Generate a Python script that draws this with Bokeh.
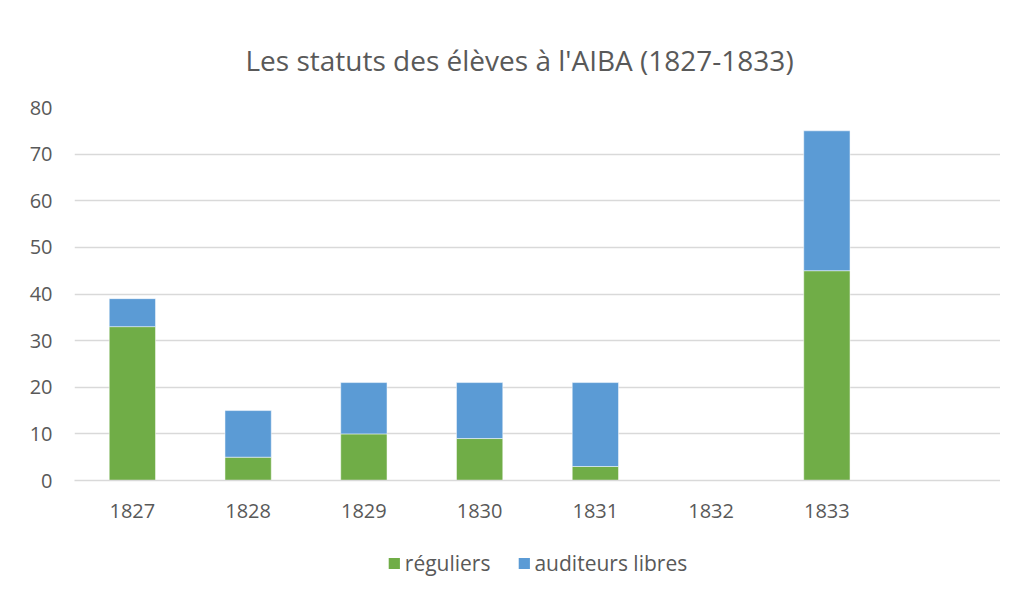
from bokeh.plotting import figure
from bokeh.layouts import column
from bokeh.models import FactorRange, ColumnDataSource, Legend, Title
from bokeh.embed import file_html
from bokeh.resources import INLINE

years = ["1827", "1828", "1829", "1830", "1831", "1832", "1833"]
reguliers = [33, 5, 10, 9, 3, 0, 45]
auditeurs_libres = [6, 10, 11, 12, 18, 0, 30]
series = ["réguliers", "auditeurs libres"]
colors = ["#70ad47", "#5b9bd5"]

source = ColumnDataSource(data={"year": years, "réguliers": reguliers, "auditeurs libres": auditeurs_libres})

FONT = "Open Sans"
TXT = "#595959"
factors = years + [" "]

p = figure(width=1000, height=530, output_backend="svg", toolbar_location=None,
           x_range=FactorRange(factors=factors, range_padding=0),
           y_range=(0, 80), min_border_left=74, min_border_right=0,
           min_border_top=107, min_border_bottom=50)

p.add_layout(Title(text="Les statuts des élèves à l'AIBA (1827-1833)", align="left",
                   text_font=FONT, text_font_size="28px", text_font_style="normal",
                   text_color=TXT, standoff=57, offset=171), "above")

p.vbar_stack(series, x="year", width=0.4, source=source, color=colors,
             line_color="white", line_width=0.5)

p.outline_line_color = None
p.xgrid.grid_line_color = None
p.ygrid.grid_line_color = "#d9d9d9"
p.ygrid.grid_line_width = 1.5
p.yaxis.ticker = list(range(0, 90, 10))
p.yaxis.axis_line_color = None
p.yaxis.major_tick_line_color = None
p.yaxis.minor_tick_line_color = None
p.yaxis.major_label_standoff = 16
p.xaxis.axis_line_color = "#d9d9d9"
p.xaxis.axis_line_width = 1.5
p.xaxis.major_tick_line_color = None
p.xaxis.major_label_standoff = 10
for ax in (p.xaxis, p.yaxis):
    ax.major_label_text_font = FONT
    ax.major_label_text_font_size = "20px"
    ax.major_label_text_color = TXT

# legend strip: its zero-width bars draw nothing, only the legend swatches show
lg = figure(width=1000, height=60, output_backend="svg", toolbar_location=None,
            x_range=FactorRange(factors=factors), y_range=(-2000, -1000),
            min_border_left=0, min_border_right=0, min_border_top=6, min_border_bottom=0)
lg_renderers = lg.vbar_stack(series, x="year", width=0, source=source,
                             fill_color=colors, line_color=None)
lg.axis.visible = False
lg.grid.visible = False
lg.outline_line_color = None

legend = Legend(items=[(s, [r]) for s, r in zip(series, lg_renderers)],
                orientation="horizontal", location="center",
                label_text_font=FONT, label_text_font_size="21px", label_text_color=TXT,
                glyph_width=14, glyph_height=14, label_standoff=4, spacing=26,
                border_line_color=None, background_fill_alpha=0)
lg.add_layout(legend, "center")

layout = column(p, lg)
open("out.html", "w").write(file_html(layout, INLINE))
